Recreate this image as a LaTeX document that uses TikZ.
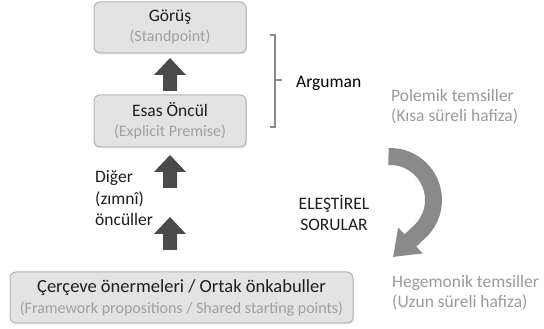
\documentclass[tikz,border=0pt]{standalone}
\usepackage{fontspec}
\setmainfont{Carlito}
\usetikzlibrary{arrows.meta,shadows,calc}
\definecolor{boxfill}{HTML}{E3E3E3}
\definecolor{boxdraw}{HTML}{B4B4B4}
\definecolor{titlecol}{HTML}{1E1E1E}
\definecolor{subcol}{HTML}{A0A0A0}
\definecolor{arrowcol}{HTML}{4A4A4A}
\definecolor{curvecol}{HTML}{8A8A8A}
\definecolor{graytext}{HTML}{9A9A9A}
\definecolor{bracketcol}{HTML}{8A8A8A}
\begin{document}
\begin{tikzpicture}[x=1pt,y=1pt,
  box/.style={draw=boxdraw, line width=1pt, fill=boxfill, rounded corners=6pt,
    align=center, inner sep=0pt,
    drop shadow={opacity=0.2,shadow xshift=1pt,shadow yshift=-1.5pt}},
  blockup/.pic={\fill[arrowcol] (-7,0) -- (-7,16) -- (-16,16) -- (0,33) -- (16,16) -- (7,16) -- (7,0) -- cycle;},
  plain/.style={font=\fontsize{17.5}{21}\selectfont, inner sep=0pt},
]
\useasboundingbox (0,0) rectangle (544,329);

% boxes
\node[box, minimum width=152pt, minimum height=51pt, font=\fontsize{17.5}{20}\selectfont] (g) at (170,301.5)
  {\color{titlecol}Görüş\\\fontsize{16}{20}\selectfont\color{subcol}(Standpoint)};
\node[box, minimum width=152pt, minimum height=52pt, font=\fontsize{17.5}{20}\selectfont] (e) at (170,208)
  {\color{titlecol}Esas Öncül\\\fontsize{16}{20}\selectfont\color{subcol}(Explicit Premise)};
\node[box, minimum width=343pt, minimum height=51pt, font=\fontsize{18.5}{21}\selectfont] (f) at (181.5,31.5)
  {\color{titlecol}Çerçeve önermeleri / Ortak önkabuller\\\fontsize{16}{21}\selectfont\color{subcol}(Framework propositions / Shared starting points)};

% block arrows
\pic at (170,238) {blockup};
\pic at (170,141) {blockup};
\pic at (170,79) {blockup};

% bracket
\coordinate (bt) at (275,294);
\coordinate (bb) at (275,202);
\coordinate (bm) at (275,249);
\draw[bracketcol, line width=1.3pt] ($(bt)+(-5,0)$) -- (bt) -- (bb) -- ($(bb)+(-5,0)$);
\draw[bracketcol, line width=1.3pt] (bm) -- ++(7,0);

% texts
\node[plain, anchor=west, text=black] (arg) at (296,246) {Arguman};
\node[plain, anchor=west, text=graytext, align=left, font=\fontsize{17.5}{20}\selectfont] (pol) at (391,222)
  {Polemik temsiller\\(Kısa süreli hafiza)};
\node[plain, anchor=west, text=graytext, align=left, font=\fontsize{17.5}{20}\selectfont] (heg) at (392,36)
  {Hegemonik temsiller\\(Uzun süreli hafiza)};
\node[plain, text=titlecol, align=center] (crit) at (334,116.5) {ELEŞTİREL\\SORULAR};
\node[plain, anchor=west, text=titlecol, align=left, font=\fontsize{17.5}{21.5}\selectfont] (dig) at (95,130.5)
  {Diğer\\(zımnî)\\öncüller};

% curved arrow
\coordinate (cc) at (390,129);
\coordinate (ctip) at (393,72);
\draw[curvecol, line width=17pt, -{Triangle[width=34pt,length=24pt]}]
  ($(cc)+(92:43.5pt)$) arc[start angle=92, end angle=-50, radius=43.5pt] -- (ctip);
\end{tikzpicture}
\end{document}
